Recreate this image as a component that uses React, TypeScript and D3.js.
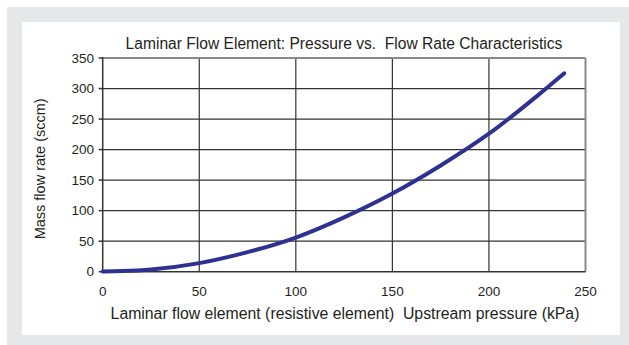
import React from 'react';
import * as d3 from 'd3';

// Pressure (kPa) and mass flow rate (sccm)
const pressure = [0, 10, 25, 50, 75, 100, 125, 150, 175, 200, 225, 239];
const flowRate = [0.5, 1, 3.5, 14, 32, 56, 89, 128, 174, 226, 288, 325];

const xTicks = [0, 50, 100, 150, 200, 250];
const yTicks = [0, 50, 100, 150, 200, 250, 300, 350];

const title = 'Laminar Flow Element: Pressure vs.\u00a0 Flow Rate Characteristics';
const xLabel = 'Laminar flow element (resistive element)\u00a0 Upstream pressure (kPa)';
const yLabel = 'Mass flow rate (sccm)';

const W = 629;
const H = 345;
const plot = { left: 102.7, right: 585.5, top: 58, bottom: 271.7 };
const font = '"Liberation Sans", Arial, Helvetica, sans-serif';

const App = () => {
  const x = d3.scaleLinear().domain([0, 250]).range([plot.left, plot.right]);
  const y = d3.scaleLinear().domain([0, 350]).range([plot.bottom, plot.top]);

  const points = pressure.map((p, i) => [p, flowRate[i]] as [number, number]);
  const line = d3.line<[number, number]>()
    .x(d => x(d[0]))
    .y(d => y(d[1]))
    .curve(d3.curveMonotoneX);

  return (
    <div style={{ position: 'fixed', left: 0, top: 0 }}>
      <svg width={W} height={H} style={{ display: 'block' }} fontFamily={font}>
        <rect x={0} y={0} width={W} height={H} fill="#fff" />
        <rect x={7} y={7} width={W - 7} height={H - 7} fill="#e6e7e9" />
        <rect x={22} y={22} width={598} height={313} fill="#fff" />

        <text x={344} y={48.5} textAnchor="middle" fontSize={15.6} fill="#231f20">{title}</text>

        {/* grid */}
        {yTicks.slice(1, -1).map(t => (
          <line key={'gy' + t} x1={plot.left} x2={plot.right} y1={y(t)} y2={y(t)} stroke="#333" strokeWidth={1.2} />
        ))}
        {xTicks.slice(1, -1).map(t => (
          <line key={'gx' + t} x1={x(t)} x2={x(t)} y1={plot.top} y2={plot.bottom} stroke="#333" strokeWidth={1.2} />
        ))}

        {/* frame */}
        <line x1={plot.left} x2={plot.right} y1={plot.top} y2={plot.top} stroke="#888" strokeWidth={2} />
        <line x1={plot.right} x2={plot.right} y1={plot.top} y2={plot.bottom} stroke="#888" strokeWidth={2} />
        <line x1={plot.left} x2={plot.right} y1={plot.bottom} y2={plot.bottom} stroke="#333" strokeWidth={1.5} />
        <line x1={plot.left} x2={plot.left} y1={plot.top - 1} y2={plot.bottom} stroke="#333" strokeWidth={1.5} />

        {/* y ticks */}
        {yTicks.map(t => (
          <g key={'ty' + t}>
            <line x1={plot.left - 4} x2={plot.left} y1={y(t)} y2={y(t)} stroke="#333" strokeWidth={1.5} />
            <text x={94} y={y(t) + 4.5} textAnchor="end" fontSize={13.5} fill="#231f20">{t}</text>
          </g>
        ))}

        {/* x ticks */}
        {xTicks.map(t => (
          <text key={'tx' + t} x={x(t)} y={295.5} textAnchor="middle" fontSize={13.5} fill="#231f20">{t}</text>
        ))}

        <path d={line(points) || ''} fill="none" stroke="#2e3192" strokeWidth={4} strokeLinecap="round" />

        <text x={345} y={318.5} textAnchor="middle" fontSize={15.8} fill="#231f20">{xLabel}</text>
        <text transform={`translate(45,${(plot.top + plot.bottom) / 2 + 4}) rotate(-90)`} textAnchor="middle" fontSize={14.5} fill="#231f20">{yLabel}</text>
      </svg>
    </div>
  );
};

export default App;
